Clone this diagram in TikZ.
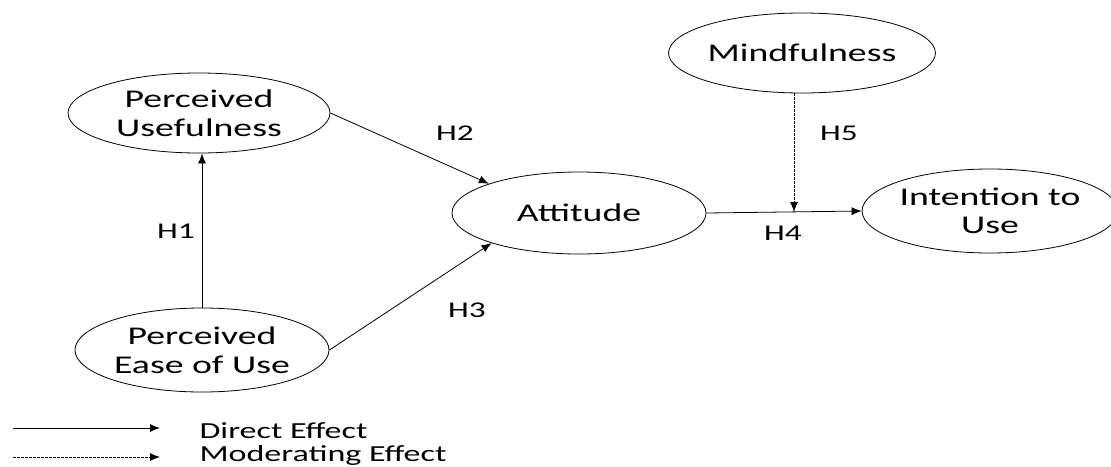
\documentclass[tikz,border=0pt]{standalone}
\usepackage{fontspec}
\newfontfamily\diagfont[FakeStretch=1.48]{Carlito}
\usetikzlibrary{shapes.geometric,arrows.meta}
\tikzset{
  construct/.style={ellipse,draw,line width=0.8pt,inner sep=0pt,align=center,
    font=\diagfont\fontsize{25.5}{28.5}\selectfont},
  hyplabel/.style={font=\diagfont\fontsize{22.5}{25}\selectfont},
  legendtext/.style={anchor=west,font=\diagfont\fontsize{23}{26}\selectfont},
  direct/.style={line width=0.8pt,-{Latex[length=10pt,width=8pt]}},
  moderating/.style={line width=0.8pt,dash pattern=on 2.5pt off 1.5pt,-{Latex[length=10pt,width=8pt]}}
}
\begin{document}
\begin{tikzpicture}[x=1pt,y=-1pt]
\useasboundingbox (0,0) rectangle (1111,466);

% Marking constructs by ellipses
\node [construct,minimum width=262,minimum height=80] (pu) at (199,113) {Perceived\\Usefulness};
\node [construct,minimum width=254,minimum height=84] (peou) at (202,350) {Perceived\\Ease of Use};
\node [construct,minimum width=254,minimum height=82] (att) at (579,213) {Attitude};
\node [construct,minimum width=240,minimum height=84] (itu) at (990,211) {Intention to\\Use};
\node [construct,minimum width=238,minimum height=80] (mind) at (802,53) {Mindfulness};

% Drawing direct paths
\draw [direct] (peou.north) -- (peou.north |- pu.south);
\draw [direct] (pu.east) -- (att.162);
\draw [direct] (peou.east) -- (att.199);
\draw [direct] (att.east) -- (itu.west);

% Drawing moderating path
\coordinate (mod) at (794,212);
\draw [moderating] (mod |- mind.south) -- (mod);

% Hypothesis labels
\node [hyplabel] (h1) at (176,231) {H1};
\node [hyplabel] (h2) at (455,133) {H2};
\node [hyplabel] (h3) at (467,310) {H3};
\node [hyplabel] (h4) at (783,233) {H4};
\node [hyplabel] (h5) at (839,133) {H5};

% Legend
\coordinate (ls1) at (13,428);
\coordinate (le1) at (160,428);
\coordinate (ls2) at (13,457);
\coordinate (le2) at (160,457);
\draw [direct] (ls1) -- (le1);
\draw [moderating] (ls2) -- (le2);
\node [legendtext] (ldirect) at (196,431) {Direct Effect};
\node [legendtext] (lmod) at (196,455) {Moderating Effect};
\end{tikzpicture}
\end{document}
